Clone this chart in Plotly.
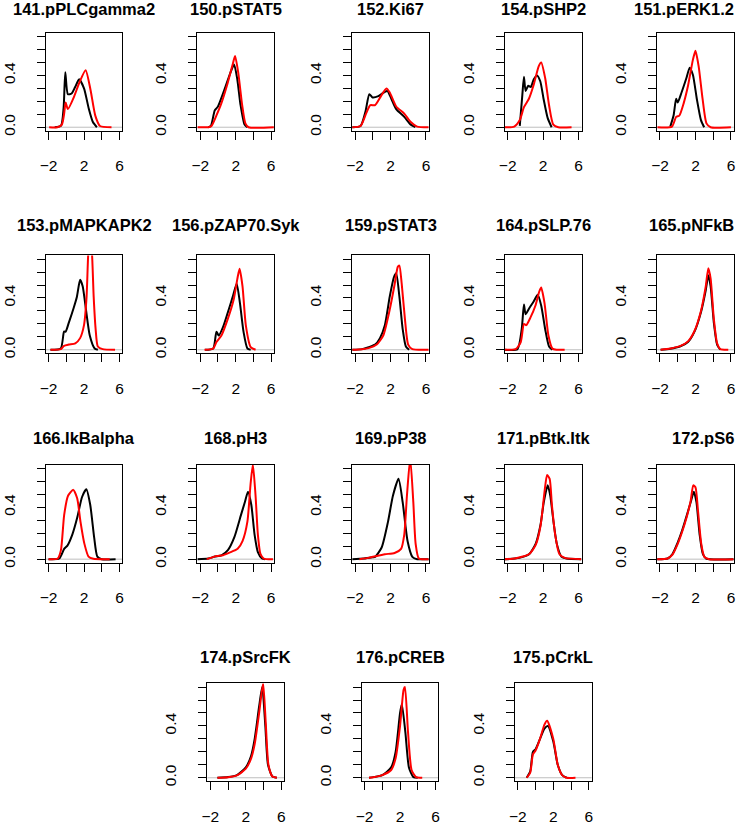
import plotly.graph_objects as go

# ---------------- data ----------------
titles = ["141.pPLCgamma2", "150.pSTAT5", "152.Ki67", "154.pSHP2", "151.pERK1.2",
          "153.pMAPKAPK2", "156.pZAP70.Syk", "159.pSTAT3", "164.pSLP.76", "165.pNFkB",
          "166.IkBalpha", "168.pH3", "169.pP38", "171.pBtk.Itk", "172.pS6",
          "174.pSrcFK", "176.pCREB", "175.pCrkL"]

x_ticks = [-2, 0, 2, 4, 6]
x_tick_text = ["\u22122", "", "2", "", "6"]
y_ticks = [0.0, 0.1, 0.2, 0.3, 0.4, 0.5, 0.6, 0.7]
y_tick_text = ["0.0", "", "", "", "0.4", "", "", ""]

# black = reference condition, red = stimulated condition
black_x_141 = [-1.3, -0.6, -0.3, -0.11, 0.18, 0.6, 1.0, 1.45, 2.0, 2.55, 3.0, 3.45]
black_y_141 = [0.0, 0.01, 0.15, 0.425, 0.255, 0.26, 0.31, 0.37, 0.3, 0.14, 0.04, 0.0]
red_x_141 = [-1.93, -1.0, -0.5, -0.25, -0.07, 0.18, 0.9, 1.45, 2.18, 2.73, 3.27, 3.8, 5.1]
red_y_141 = [0.0, 0.0, 0.02, 0.1, 0.19, 0.14, 0.24, 0.34, 0.44, 0.29, 0.09, 0.01, 0.0]

black_x_150 = [-1.1, -0.8, -0.36, 0.0, 0.73, 1.45, 1.82, 2.18, 2.55, 3.0, 3.3]
black_y_150 = [0.0, 0.01, 0.13, 0.16, 0.29, 0.43, 0.485, 0.37, 0.17, 0.02, 0.0]
red_x_150 = [-2.32, -1.1, -0.73, -0.18, 0.36, 1.09, 1.64, 1.93, 2.29, 2.73, 3.09, 3.45, 6.3]
red_y_150 = [0.0, 0.0, 0.01, 0.09, 0.18, 0.34, 0.48, 0.55, 0.42, 0.17, 0.03, 0.0, 0.0]

black_x_152 = [-2.32, -1.38, -0.83, -0.39, -0.03, 0.63, 1.28, 1.65, 2.09, 2.64, 3.55, 4.28, 4.8]
black_y_152 = [0.0, 0.01, 0.12, 0.255, 0.23, 0.24, 0.27, 0.28, 0.22, 0.14, 0.08, 0.02, 0.0]
red_x_152 = [-2.32, -1.38, -0.76, -0.28, 0.26, 0.92, 1.54, 1.9, 2.64, 3.55, 4.28, 5.0, 6.3]
red_y_152 = [0.0, 0.01, 0.105, 0.17, 0.17, 0.24, 0.30, 0.27, 0.16, 0.105, 0.04, 0.005, 0.0]

black_x_154 = [-0.64, -0.35, -0.17, 0.02, 0.31, 0.6, 0.94, 1.3, 1.67, 2.04, 2.51, 2.95]
black_y_154 = [0.01, 0.25, 0.39, 0.28, 0.32, 0.31, 0.37, 0.40, 0.355, 0.22, 0.07, 0.0]
red_x_154 = [-2.32, -1.27, -0.64, -0.17, 0.39, 0.94, 1.49, 1.78, 2.22, 2.66, 3.14, 3.7, 5.2]
red_y_154 = [0.0, 0.005, 0.055, 0.155, 0.22, 0.33, 0.47, 0.50, 0.38, 0.17, 0.02, 0.0, 0.0]

black_x_151 = [-0.84, -0.47, -0.18, 0.0, 0.44, 0.98, 1.35, 1.71, 2.15, 2.62, 2.98]
black_y_151 = [0.005, 0.09, 0.22, 0.19, 0.27, 0.38, 0.46, 0.405, 0.22, 0.055, 0.0]
red_x_151 = [-2.29, -0.65, -0.18, 0.18, 0.69, 1.16, 1.71, 2.0, 2.36, 2.8, 3.24, 3.71, 6.0]
red_y_151 = [0.0, 0.005, 0.08, 0.09, 0.19, 0.32, 0.52, 0.59, 0.47, 0.22, 0.03, 0.0, 0.0]

black_x_153 = [-1.78, -0.62, -0.25, -0.07, 0.29, 0.84, 1.2, 1.56, 1.85, 2.22, 2.65, 3.2, 3.56]
black_y_153 = [0.0, 0.01, 0.14, 0.14, 0.21, 0.325, 0.41, 0.54, 0.49, 0.31, 0.11, 0.01, 0.0]
red_x_153 = [-1.78, -0.62, -0.25, 0.29, 1.02, 1.56, 2.0, 2.29, 2.47, 2.69, 2.91, 3.09, 3.31, 3.56, 4.1, 5.5]
red_y_153 = [0.0, 0.005, 0.03, 0.04, 0.05, 0.09, 0.19, 0.41, 0.73, 0.9, 0.73, 0.41, 0.16, 0.025, 0.005, 0.0]

black_x_156 = [-1.45, -0.53, -0.17, 0.09, 0.57, 1.12, 1.67, 2.11, 2.48, 2.88, 3.32, 3.69]
black_y_156 = [0.0, 0.01, 0.14, 0.11, 0.175, 0.29, 0.41, 0.51, 0.36, 0.14, 0.01, 0.0]
red_x_156 = [-1.52, -0.53, -0.17, 0.39, 1.12, 1.78, 2.22, 2.44, 2.77, 3.14, 3.69, 4.24]
red_y_156 = [0.0, 0.01, 0.06, 0.11, 0.24, 0.39, 0.56, 0.625, 0.49, 0.19, 0.02, 0.0]

black_x_159 = [-2.32, -1.2, -0.47, 0.26, 0.81, 1.36, 1.91, 2.38, 2.64, 3.0, 3.37, 3.73, 4.1]
black_y_159 = [0.0, 0.005, 0.02, 0.04, 0.09, 0.19, 0.41, 0.56, 0.59, 0.41, 0.16, 0.025, 0.0]
red_x_159 = [-2.32, -1.2, -0.47, 0.44, 1.18, 1.91, 2.45, 2.82, 3.0, 3.26, 3.62, 3.99, 4.46, 6.3]
red_y_159 = [0.0, 0.005, 0.013, 0.04, 0.11, 0.31, 0.5, 0.64, 0.65, 0.51, 0.24, 0.04, 0.005, 0.0]

black_x_164 = [-2.32, -0.9, -0.42, -0.17, 0.02, 0.46, 0.94, 1.38, 1.78, 2.22, 2.66, 3.03]
black_y_164 = [0.0, 0.005, 0.16, 0.35, 0.275, 0.325, 0.375, 0.425, 0.34, 0.16, 0.025, 0.0]
red_x_164 = [-2.32, -1.1, -0.53, -0.17, 0.09, 0.57, 1.12, 1.56, 1.78, 2.15, 2.59, 3.03, 3.5, 4.42]
red_y_164 = [0.0, 0.005, 0.06, 0.2, 0.19, 0.25, 0.34, 0.45, 0.48, 0.36, 0.11, 0.01, 0.0, 0.0]

black_x_165 = [-1.93, -0.84, 0.25, 1.16, 1.89, 2.62, 3.16, 3.45, 3.71, 4.07, 4.44, 4.8]
black_y_165 = [0.0, 0.008, 0.025, 0.06, 0.14, 0.29, 0.46, 0.575, 0.49, 0.21, 0.04, 0.0]
red_x_165 = [-1.93, -0.84, 0.25, 1.16, 1.89, 2.62, 3.16, 3.45, 3.71, 4.07, 4.44, 4.8, 5.7]
red_y_165 = [0.0, 0.01, 0.028, 0.065, 0.145, 0.30, 0.49, 0.63, 0.55, 0.24, 0.05, 0.005, 0.0]

black_x_166 = [-2.0, -0.79, -0.24, 0.13, 0.68, 1.23, 1.78, 2.26, 2.7, 3.14, 3.5, 4.0, 5.56]
black_y_166 = [0.0, 0.005, 0.08, 0.105, 0.19, 0.32, 0.48, 0.54, 0.42, 0.17, 0.02, 0.0, 0.0]
red_x_166 = [-2.0, -0.97, -0.6, -0.24, 0.2, 0.79, 1.23, 1.6, 2.04, 2.51, 3.06, 4.9]
red_y_166 = [0.0, 0.005, 0.07, 0.34, 0.49, 0.535, 0.47, 0.29, 0.12, 0.02, 0.003, 0.0]

black_x_168 = [-2.32, -1.08, -0.35, 0.39, 1.12, 1.85, 2.59, 3.03, 3.39, 3.76, 4.13, 4.5, 4.97, 5.3]
black_y_168 = [0.0, 0.005, 0.02, 0.03, 0.07, 0.17, 0.34, 0.44, 0.52, 0.42, 0.19, 0.055, 0.005, 0.0]
red_x_168 = [-1.27, -0.72, -0.17, 0.57, 1.3, 2.22, 2.77, 3.32, 3.69, 3.94, 4.24, 4.5, 4.79, 5.16, 6.2]
red_y_168 = [0.0, 0.012, 0.025, 0.03, 0.05, 0.08, 0.14, 0.29, 0.59, 0.73, 0.49, 0.19, 0.04, 0.005, 0.0]

black_x_169 = [-2.32, -1.0, 0.0, 0.26, 1.0, 1.72, 2.27, 2.9, 3.37, 3.92, 4.46, 5.0, 6.3]
black_y_169 = [0.0, 0.005, 0.015, 0.018, 0.09, 0.29, 0.49, 0.62, 0.44, 0.14, 0.018, 0.0, 0.0]
red_x_169 = [-1.5, -0.5, 0.26, 1.36, 2.46, 3.19, 3.55, 3.85, 4.22, 4.57, 4.83, 5.2, 6.3]
red_y_169 = [0.0, 0.01, 0.022, 0.038, 0.048, 0.08, 0.19, 0.49, 0.78, 0.44, 0.12, 0.005, 0.0]

black_x_171 = [-2.32, -1.2, -0.29, 0.44, 1.16, 1.71, 2.07, 2.51, 2.8, 3.16, 3.53, 4.07, 4.62, 6.3]
black_y_171 = [0.0, 0.005, 0.018, 0.04, 0.12, 0.27, 0.44, 0.57, 0.49, 0.29, 0.12, 0.018, 0.005, 0.0]
red_x_171 = [-2.32, -1.2, -0.29, 0.44, 1.16, 1.71, 2.15, 2.44, 2.73, 2.98, 3.35, 3.82, 4.44, 6.3]
red_y_171 = [0.0, 0.006, 0.02, 0.04, 0.11, 0.26, 0.52, 0.65, 0.62, 0.42, 0.19, 0.04, 0.01, 0.0]

black_x_172 = [-2.32, -1.14, -0.59, -0.05, 0.49, 1.03, 1.46, 1.82, 2.11, 2.47, 2.83, 3.19, 6.3]
black_y_172 = [0.0, 0.005, 0.04, 0.12, 0.22, 0.34, 0.44, 0.52, 0.44, 0.19, 0.04, 0.005, 0.0]
red_x_172 = [-2.32, -1.14, -0.59, -0.05, 0.49, 1.03, 1.46, 1.75, 2.0, 2.29, 2.65, 3.0, 3.55, 6.3]
red_y_172 = [0.0, 0.005, 0.035, 0.11, 0.21, 0.33, 0.45, 0.57, 0.555, 0.37, 0.12, 0.018, 0.0, 0.0]

black_x_174 = [-1.2, 0.0, 1.0, 2.0, 2.6, 3.0, 3.5, 3.85, 4.2, 4.5, 5.0, 5.5]
black_y_174 = [0.0, 0.005, 0.02, 0.08, 0.17, 0.3, 0.55, 0.70, 0.4, 0.1, 0.01, 0.0]
red_x_174 = [-1.2, 0.0, 1.0, 2.0, 2.6, 3.0, 3.5, 3.95, 4.25, 4.55, 5.0, 5.5]
red_y_174 = [0.0, 0.004, 0.018, 0.07, 0.15, 0.26, 0.5, 0.73, 0.42, 0.1, 0.01, 0.0]

black_x_176 = [-1.5, -1.0, 0.0, 1.0, 1.5, 2.0, 2.2, 2.6, 3.0, 3.5, 4.0]
black_y_176 = [0.0, 0.005, 0.02, 0.08, 0.2, 0.5, 0.57, 0.35, 0.08, 0.005, 0.0]
red_x_176 = [-1.5, -1.0, 0.0, 1.0, 1.5, 2.0, 2.4, 2.55, 2.9, 3.3, 3.8, 4.5]
red_y_176 = [0.0, 0.004, 0.02, 0.06, 0.15, 0.4, 0.68, 0.70, 0.35, 0.06, 0.005, 0.0]

black_x_175 = [-1.0, -0.6, -0.3, 0.0, 0.5, 1.0, 1.4, 2.0, 2.5, 3.0, 3.5]
black_y_175 = [0.0, 0.05, 0.2, 0.22, 0.3, 0.38, 0.40, 0.28, 0.1, 0.02, 0.0]
red_x_175 = [-1.0, -0.6, -0.3, 0.0, 0.5, 1.0, 1.3, 2.0, 2.5, 3.0, 3.5, 4.5]
red_y_175 = [0.0, 0.04, 0.18, 0.21, 0.3, 0.41, 0.44, 0.3, 0.1, 0.02, 0.0, 0.0]

black_x = [black_x_141, black_x_150, black_x_152, black_x_154, black_x_151,
           black_x_153, black_x_156, black_x_159, black_x_164, black_x_165,
           black_x_166, black_x_168, black_x_169, black_x_171, black_x_172,
           black_x_174, black_x_176, black_x_175]
black_y = [black_y_141, black_y_150, black_y_152, black_y_154, black_y_151,
           black_y_153, black_y_156, black_y_159, black_y_164, black_y_165,
           black_y_166, black_y_168, black_y_169, black_y_171, black_y_172,
           black_y_174, black_y_176, black_y_175]
red_x = [red_x_141, red_x_150, red_x_152, red_x_154, red_x_151,
         red_x_153, red_x_156, red_x_159, red_x_164, red_x_165,
         red_x_166, red_x_168, red_x_169, red_x_171, red_x_172,
         red_x_174, red_x_176, red_x_175]
red_y = [red_y_141, red_y_150, red_y_152, red_y_154, red_y_151,
         red_y_153, red_y_156, red_y_159, red_y_164, red_y_165,
         red_y_166, red_y_168, red_y_169, red_y_171, red_y_172,
         red_y_174, red_y_176, red_y_175]

# ---------------- layout (pixels) ----------------
W, H = 739, 825
BOX_W, BOX_H = 78, 99
col_left = [34.3, 188.7, 346.3, 501.7, 656.7]
row_top = [33.3, 258.3, 470.0, 691.0]
title_gap = [24.5, 31.0, 27.0, 27.0]
last_row_left = [199.0, 356.0, 512.0]

positions = []
for r in range(3):
    for c in range(5):
        positions.append((col_left[c], row_top[r], title_gap[r]))
for c in range(3):
    positions.append((last_row_left[c], row_top[3], title_gap[3]))

FONT = "Liberation Sans, Arial, Helvetica, sans-serif"
TICK_SIZE = 15.5
TITLE_SIZE = 16.5

fig = go.Figure()
layout = dict(
    width=W, height=H, margin=dict(l=0, r=0, t=0, b=0),
    paper_bgcolor="white", plot_bgcolor="white", showlegend=False,
    font=dict(family=FONT, size=TICK_SIZE, color="black"),
)
annotations = []
shapes = []

for i, (left, top, gap) in enumerate(positions):
    n = i + 1
    xa = "x" if n == 1 else f"x{n}"
    ya = "y" if n == 1 else f"y{n}"
    xkey = "xaxis" if n == 1 else f"xaxis{n}"
    ykey = "yaxis" if n == 1 else f"yaxis{n}"
    x0, x1 = left / W, (left + BOX_W) / W
    y1, y0 = 1 - top / H, 1 - (top + BOX_H) / H
    layout[xkey] = dict(
        domain=[x0, x1], anchor=ya, range=[-2.32, 6.32],
        tickvals=x_ticks, ticktext=x_tick_text, ticks="outside", ticklen=8,
        tickwidth=1, tickcolor="black", showline=True, linecolor="black",
        linewidth=1, mirror=True, showgrid=False, zeroline=False,
        ticklabelstandoff=13, tickfont=dict(size=TICK_SIZE, family=FONT),
        fixedrange=True,
    )
    layout[ykey] = dict(
        domain=[y0, y1], anchor=xa, range=[-0.028, 0.728],
        tickvals=y_ticks, ticktext=y_tick_text, ticks="outside", ticklen=8,
        tickwidth=1, tickcolor="black", showline=True, linecolor="black",
        linewidth=1, mirror=True, showgrid=False, zeroline=False,
        tickangle=-90, ticklabelstandoff=16, tickfont=dict(size=TICK_SIZE, family=FONT),
        fixedrange=True,
    )
    shapes.append(dict(type="line", xref=f"{xa} domain", yref=ya, x0=0, x1=1,
                       y0=0, y1=0, line=dict(color="#bebebe", width=1), layer="below"))
    fig.add_trace(go.Scatter(x=black_x[i], y=black_y[i], xaxis=xa, yaxis=ya, mode="lines",
                             line=dict(color="black", width=2, shape="spline", smoothing=0.6),
                             cliponaxis=True, hoverinfo="skip"))
    fig.add_trace(go.Scatter(x=red_x[i], y=red_y[i], xaxis=xa, yaxis=ya, mode="lines",
                             line=dict(color="#ff0000", width=2, shape="spline", smoothing=0.6),
                             cliponaxis=True, hoverinfo="skip"))
    cx = left + BOX_W / 2
    if cx + 50 > W - 2:
        tx, anchor = (W - 2) / W, "right"
    else:
        tx, anchor = cx / W, "center"
    annotations.append(dict(
        text=f"<b>{titles[i]}</b>", x=tx, y=1 - (top - gap) / H,
        xref="paper", yref="paper", showarrow=False, xanchor=anchor, yanchor="middle",
        font=dict(family=FONT, size=TITLE_SIZE, color="black"),
    ))

layout["annotations"] = annotations
layout["shapes"] = shapes
fig.update_layout(**layout)
fig.write_html(
    "out.html",
    config={"displayModeBar": False, "staticPlot": True},
    post_script="document.body.style.margin='0';document.body.style.padding='0';document.body.style.overflow='hidden';",
)
